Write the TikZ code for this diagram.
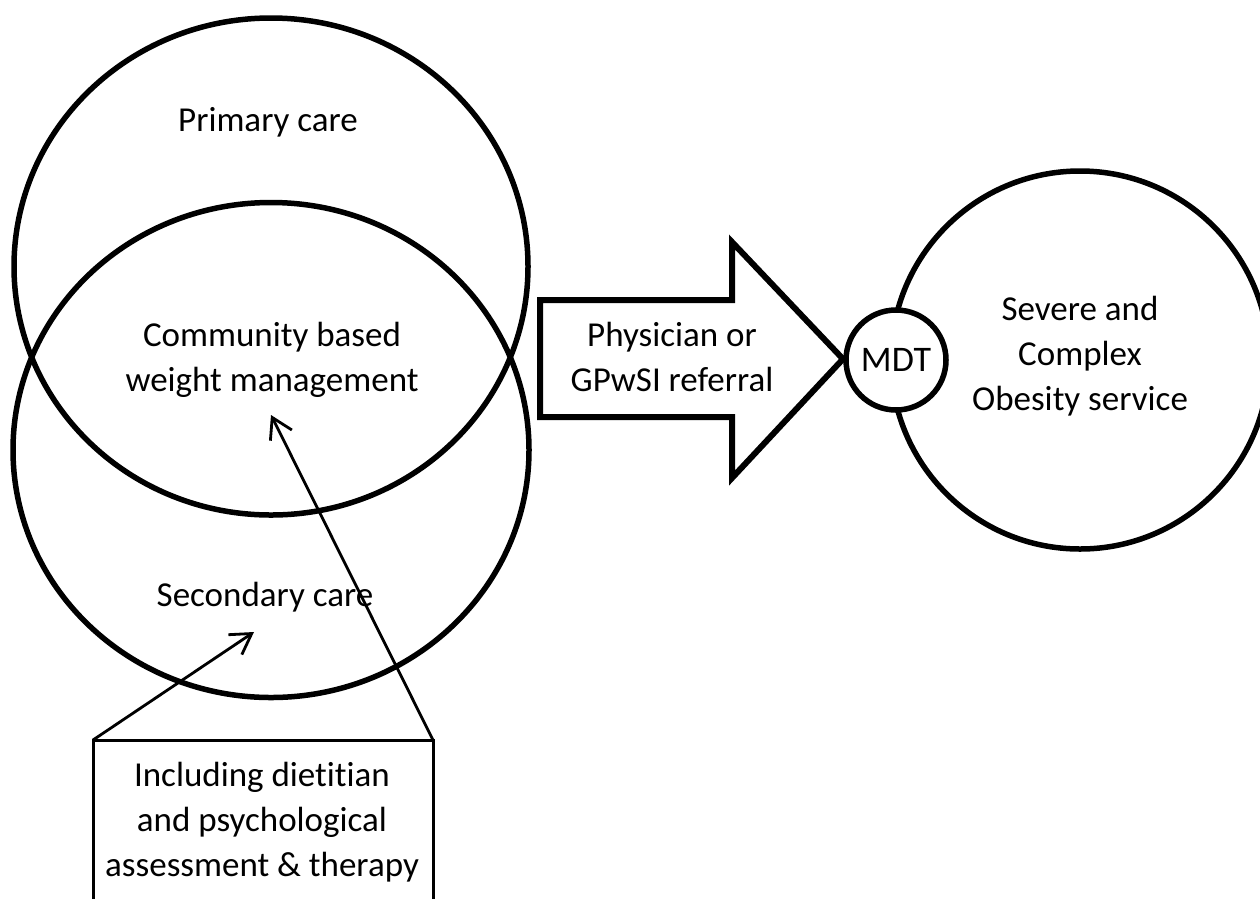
\documentclass[tikz,border=0pt]{standalone}
\usepackage{fontspec}
\setmainfont{Carlito}[Ligatures=NoCommon]
\usetikzlibrary{arrows.meta,shapes.geometric}
\begin{document}
\begin{tikzpicture}[x=1pt,y=-1pt,
  ring/.style={draw=black,line width=5.5pt,inner sep=0pt,outer sep=0pt},
  lbl/.style={font=\fontsize{35}{45}\selectfont,align=center,inner sep=0pt},
  conn/.style={line width=2.8pt,-{Straight Barb[length=20pt,width=24pt,line width=2.8pt]}},
  blockarrow/.style={draw=black,line width=6pt,line join=miter,fill=white}
]
\useasboundingbox (0,0) rectangle (1260,898);
\clip (0,0) rectangle (1260,898);
% Venn ellipses
\node[ring,ellipse,minimum width=514pt,minimum height=497pt] (primary) at (271,266.5) {};
\node[ring,ellipse,minimum width=516pt,minimum height=495pt] (secondary) at (271,450) {};
\node[lbl] (primarylbl) at (268,122) {Primary care};
\node[lbl] (community) at (272,360) {Community based\\weight management};
\node[lbl] (secondarylbl) at (265,597) {Secondary care};
% block arrow
\draw[blockarrow] (540,300) -- (732,300) -- (732,242) -- (843,359) -- (732,478) -- (732,417) -- (540,417) -- cycle;
\node[lbl] (referral) at (672,357) {Physician or\\GPwSI referral};
% right circle and MDT
\node[ring,circle,minimum size=378pt] (service) at (1080,360) {};
\node[lbl] (servicelbl) at (1080,356) {Severe and\\Complex\\Obesity service};
\node[ring,circle,fill=white,minimum size=100pt,font=\fontsize{36}{40}\selectfont] (mdt) at (896,360) {MDT};
% box
\node[draw=black,line width=3pt,outer sep=0pt,inner sep=0pt,minimum width=340pt,minimum height=220pt,anchor=north west] (incl) at (93,740) {};
\node[lbl] (incllbl) at (262,822) {Including dietitian\\and psychological\\assessment \& therapy};
% connectors
\coordinate (sectip) at (254,632);
\coordinate (commtip) at (271,415);
\draw[conn] (incl.north west) -- (sectip);
\draw[conn] (incl.north east) -- (commtip);
\end{tikzpicture}
\end{document}
